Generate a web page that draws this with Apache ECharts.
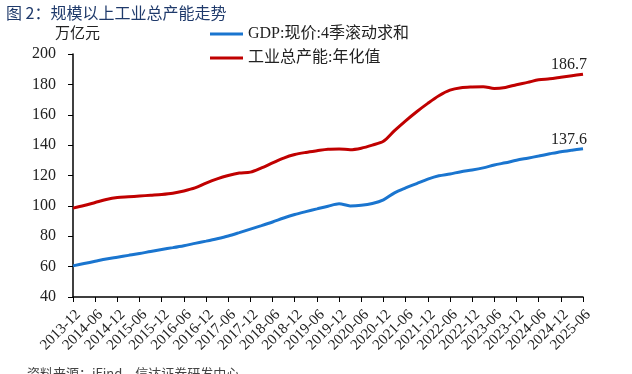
<!DOCTYPE html>
<html><head><meta charset="utf-8">
<script src="https://cdn.jsdelivr.net/npm/echarts@6/dist/echarts.min.js"></script>
<style>html,body{margin:0;padding:0;background:#fff}#c{width:632px;height:374px}</style>
</head><body><div id="c"></div>
<script>
// quarterly dates 2013-12 .. 2025-06
const categories = [
 '2013-12','2014-03','2014-06','2014-09','2014-12','2015-03','2015-06','2015-09','2015-12',
 '2016-03','2016-06','2016-09','2016-12','2017-03','2017-06','2017-09','2017-12',
 '2018-03','2018-06','2018-09','2018-12','2019-03','2019-06','2019-09','2019-12',
 '2020-03','2020-06','2020-09','2020-12','2021-03','2021-06','2021-09','2021-12',
 '2022-03','2022-06','2022-09','2022-12','2023-03','2023-06','2023-09','2023-12',
 '2024-03','2024-06','2024-09','2024-12','2025-03','2025-06'];
const gdp = [60.5,62.0,63.5,65.0,66.2,67.4,68.6,70.0,71.3,72.5,73.8,75.3,76.8,78.4,80.2,82.4,84.7,
 87.0,89.4,92.0,94.3,96.2,98.0,99.8,101.4,100.0,100.4,101.6,104.0,108.6,111.8,114.7,117.6,
 119.8,121.0,122.5,123.6,125.0,126.9,128.4,130.0,131.4,132.8,134.3,135.7,136.7,137.6];
const capacity = [98.5,100.2,102.2,104.2,105.5,106.0,106.5,107.0,107.5,108.3,109.8,111.8,115.0,117.8,120.0,121.6,122.2,
 125.0,128.3,131.5,133.8,135.2,136.3,137.3,137.5,137.0,138.0,140.0,142.5,149.5,156.0,162.0,167.5,
 172.5,176.2,177.8,178.3,178.5,177.3,178.0,179.8,181.3,183.0,183.7,184.7,185.7,186.7];
const seriesNames = ['GDP:现价:4季滚动求和','工业总产能:年化值'];
const yTicks = {min:40, max:200, interval:20};

const serif = '"Liberation Serif","Times New Roman","Noto Sans CJK SC",serif';
const chart = echarts.init(document.getElementById('c'));
function lastLabel(arr){
  return arr.map((v,i)=> i===arr.length-1 ? {value:v, label:{show:true, position:'top', distance:3, offset:[-14,2], formatter:String(v), fontFamily:serif, fontSize:16, color:'#222'}} : v);
}
chart.setOption({
  animation:false,
  title:{text:'图 2：规模以上工业总产能走势', left:1, top:0,
    textStyle:{fontSize:16, fontWeight:'normal', color:'#1f3a6b', fontFamily:'"Noto Sans CJK SC",sans-serif'}},
  graphic:[
    {type:'text', left:55, top:25, style:{text:'万亿元', fill:'#222', font:'15px "Noto Sans CJK SC",sans-serif'}},
    {type:'text', left:27, top:367, style:{text:'资料来源：iFind，信达证券研发中心', fill:'#444', font:'13px "Noto Sans CJK SC",sans-serif'}}
  ],
  legend:{orient:'vertical', left:205, top:21, itemWidth:33, itemHeight:3, itemGap:8, icon:'rect',
    textStyle:{fontSize:16, color:'#222', fontFamily:serif}, data:seriesNames},
  grid:{left:73, right:49, top:54, bottom:77, containLabel:false},
  xAxis:{type:'category', data:categories, boundaryGap:false,
    axisLine:{lineStyle:{color:'#000', width:1.5}},
    axisTick:{interval:1, length:5, lineStyle:{color:'#000'}},
    axisLabel:{interval:1, rotate:45, fontSize:15, color:'#222', fontFamily:serif, margin:10, verticalAlign:'top'}},
  yAxis:{type:'value', min:yTicks.min, max:yTicks.max, interval:yTicks.interval,
    splitLine:{show:false},
    axisLine:{show:true, lineStyle:{color:'#000', width:1.5}},
    axisTick:{show:true, length:5, lineStyle:{color:'#000'}},
    axisLabel:{fontSize:16, color:'#222', fontFamily:serif, margin:17}},
  series:[
    {name:seriesNames[0], type:'line', data:lastLabel(gdp), symbol:'circle', symbolSize:0, smooth:0.3,
      lineStyle:{color:'#1a75cf', width:3}, itemStyle:{color:'#1a75cf'}},
    {name:seriesNames[1], type:'line', data:lastLabel(capacity), symbol:'circle', symbolSize:0, smooth:0.3,
      lineStyle:{color:'#c00000', width:3}, itemStyle:{color:'#c00000'}}
  ]
});
</script></body></html>
